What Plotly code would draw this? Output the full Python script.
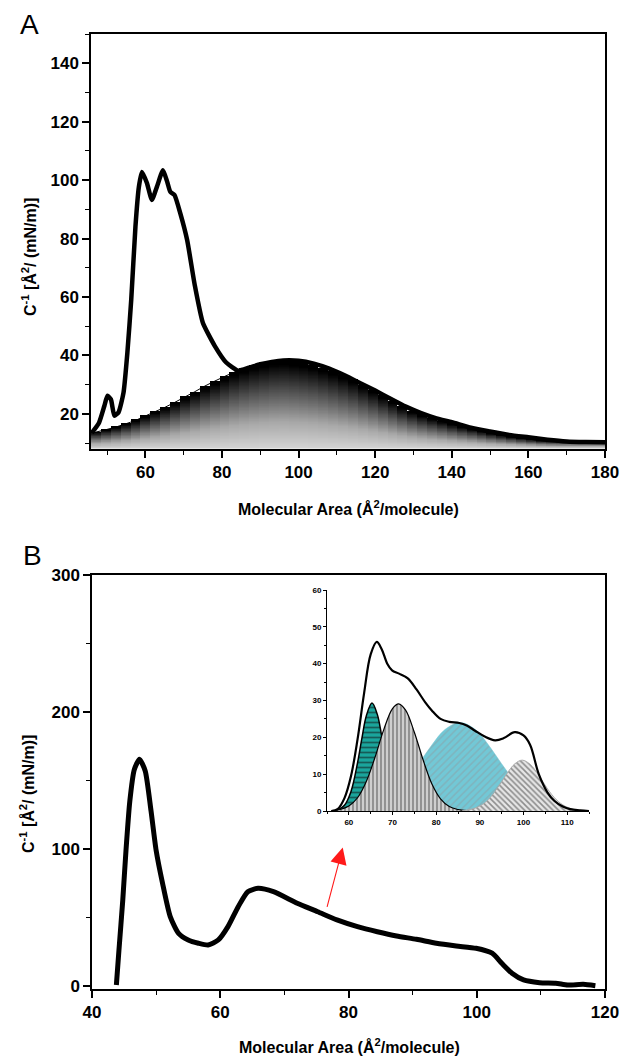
import plotly.graph_objects as go

# ---------------- Panel A data ----------------
a_bin_start = 45.8
a_bin_width = 2.58
a_dist_heights = [13.8, 14.6, 15.5, 16.6, 17.8, 19.3, 20.8, 22.3, 24.0, 25.8,
                  27.6, 29.5, 31.2, 32.8, 34.3, 35.6, 36.7, 37.5, 38.2, 38.4,
                  38.0, 37.5, 36.8, 35.8, 34.6, 33.3, 31.8, 30.0, 28.2, 26.3,
                  24.4, 22.6, 21.0, 19.7, 18.6, 17.6, 16.6, 15.7, 14.9, 14.1,
                  13.4, 12.8, 12.2, 11.7, 11.3, 10.9, 10.7, 10.6, 10.6, 10.6,
                  10.6, 10.6]
a_curve_x = [46.0, 47.9, 49.3, 50.1, 51.0, 51.9, 53.0, 54.3, 55.3, 56.3, 57.4, 58.3,
             59.1, 60.4, 61.7, 63.0, 64.6, 65.7, 66.5, 67.6, 69.1, 70.9, 72.9, 75.0,
             78.1, 81.1, 84.2, 87.0, 90.0, 93.0, 96.0, 100.0, 104.0, 108.0, 112.0,
             116.0, 120.0, 124.0, 128.0, 132.0, 136.0, 140.0, 145.0, 150.0, 155.0,
             160.0, 165.0, 170.0, 175.0, 180.0]
a_curve_y = [13.5, 17.0, 22.8, 26.2, 25.0, 19.4, 20.6, 27.4, 41.0, 59.0, 84.0, 97.7,
             102.8, 99.0, 93.2, 97.7, 103.4, 99.4, 96.0, 94.9, 88.7, 79.5, 64.0, 51.2,
             43.3, 37.6, 34.8, 35.8, 37.0, 37.8, 38.3, 38.2, 37.2, 35.5, 33.2,
             30.6, 28.0, 25.2, 22.5, 20.3, 18.5, 17.2, 15.3, 14.0, 12.8,
             12.0, 11.2, 10.6, 10.4, 10.3]

# ---------------- Panel B data ----------------
b_curve_x = [43.8, 44.2, 44.8, 45.3, 45.9, 46.6, 47.4, 48.3, 49.2, 50.0, 51.0, 52.2,
             53.5, 55.0, 56.6, 58.1, 59.7, 61.2, 62.8, 64.3, 65.9, 68.3, 72.0, 75.2,
             78.2, 81.4, 84.5, 87.5, 90.6, 93.7, 96.8, 99.9, 102.4, 103.9, 105.5,
             107.3, 109.8, 112.3, 114.2, 116.6, 118.5]
b_curve_y = [0.7, 26.0, 62.8, 99.0, 135.0, 158.0, 165.5, 157.0, 128.0, 99.0, 75.0, 50.6,
             38.4, 33.6, 31.2, 29.9, 33.6, 43.3, 57.9, 68.8, 71.3, 68.8, 60.4, 54.2,
             48.2, 43.3, 39.6, 36.5, 34.1, 31.2, 29.2, 27.5, 23.9, 16.6, 9.3,
             4.4, 2.4, 2.0, 0.7, 1.2, 0.2]
arrow_tail = (76.6, 56.7)
arrow_head = (79.1, 101.0)

# ---------------- Inset data ----------------
ins_env_x = [56, 57.5, 59, 60.5, 62, 63.5, 65, 66.4, 67.5, 68.8, 69.9, 71.5, 73.5, 75.5,
             77.5, 79, 81, 83, 85.3, 87, 88.9, 91, 93.5, 95.5, 98, 100, 101.5, 103.5,
             105.5, 107.1, 109, 110.7, 113, 115]
ins_env_y = [0, 0.6, 3.5, 9.5, 19.5, 32, 42.5, 45.9, 44, 40, 38.2, 37.3, 36, 33,
             29.5, 27.3, 25, 24.2, 23.9, 23.2, 21.8, 20.3, 19.2, 19.8, 21.4, 20.5, 18, 10,
             5, 2.7, 1.2, 0.5, 0.2, 0]
ins_teal_x = [57.5, 59, 60.5, 62, 63, 64, 65.3, 66.5, 67.5, 68.5, 70, 71.5, 73]
ins_teal_y = [0.3, 1.55, 5.3, 13.1, 19.8, 25.8, 29.3, 26.3, 20.5, 13.7, 5.7, 1.7, 0.4]
ins_gray_x = [56, 58, 60, 62, 64, 66, 68, 70, 71.4, 73, 75, 77, 79, 81, 83, 85, 87]
ins_gray_y = [0.1, 0.4, 1.35, 3.6, 8.0, 14.6, 22.1, 27.8, 29.1, 27.4, 21.4, 13.9, 7.4,
              3.3, 1.2, 0.4, 0.1]
ins_blue_x = [70, 73, 76, 79, 82, 85.5, 89, 92, 95, 98, 101, 104, 107]
ins_blue_y = [4.6, 8.1, 12.8, 17.9, 22.1, 24.0, 22.1, 17.9, 12.8, 8.1, 4.6, 2.3, 1.0]
ins_dark_x = [86, 88, 90, 92, 94, 96, 98, 99.7, 101.5, 103.5, 105.5, 107.5, 109.5,
              111.5, 113.5]
ins_dark_y = [0.13, 0.47, 1.35, 3.2, 6.2, 9.8, 12.8, 13.8, 12.7, 9.7, 6.0, 3.1, 1.3,
              0.45, 0.1]

FONT = "Liberation Sans, Arial, sans-serif"
W, H = 621, 1057

fig = go.Figure()

# Gradient-filled staircase distribution (panel A) as a masked heatmap
a_base = 8.0
dy = 0.2
n_rows = int((max(a_dist_heights) - a_base) / dy) + 2
z = []
for k in range(n_rows):
    yk = a_base + dy / 2 + k * dy
    row = []
    for h in a_dist_heights:
        row.append((yk - a_base) / (h - a_base) if yk - dy / 2 < h else None)
    z.append(row)
centers = [a_bin_start + a_bin_width * (j + 0.5) for j in range(len(a_dist_heights))]
fig.add_trace(go.Heatmap(
    z=z, x0=centers[0], dx=a_bin_width, y0=a_base + dy / 2, dy=dy,
    colorscale=[[0, "#d4d4d4"], [0.3, "#a8a8a8"], [0.65, "#505050"], [0.95, "#000000"], [1, "#000000"]],
    zmin=0, zmax=1, showscale=False, hoverinfo="skip", zsmooth=False,
    xaxis="x", yaxis="y"))
fig.add_trace(go.Scatter(x=centers, y=a_dist_heights, mode="lines",
                         line=dict(color="black", width=1, shape="spline"),
                         xaxis="x", yaxis="y", hoverinfo="skip"))
fig.add_trace(go.Scatter(x=a_curve_x, y=a_curve_y, mode="lines",
                         line=dict(color="black", width=4.5, shape="spline", smoothing=0.5),
                         xaxis="x", yaxis="y"))

# Panel B main curve
fig.add_trace(go.Scatter(x=b_curve_x, y=b_curve_y, mode="lines",
                         line=dict(color="black", width=5, shape="spline", smoothing=0.6),
                         xaxis="x2", yaxis="y2"))

# Inset components
fig.add_trace(go.Scatter(x=ins_blue_x, y=ins_blue_y, mode="lines", fill="tozeroy",
                         line=dict(color="#7fc9d4", width=0.5, shape="spline"),
                         fillcolor="#72c8d6",
                         fillpattern=dict(shape="/", bgcolor="#72c8d6", fgcolor="#8c9ea3",
                                          size=5, solidity=0.3),
                         xaxis="x3", yaxis="y3"))
fig.add_trace(go.Scatter(x=ins_teal_x, y=ins_teal_y, mode="lines", fill="tozeroy",
                         line=dict(color="black", width=1.5, shape="spline"),
                         fillpattern=dict(shape="-", bgcolor="#1aa59c", fgcolor="#111111",
                                          size=5, solidity=0.35),
                         xaxis="x3", yaxis="y3"))
fig.add_trace(go.Scatter(x=ins_gray_x, y=ins_gray_y, mode="lines", fill="tozeroy",
                         line=dict(color="black", width=1.2, shape="spline"),
                         fillpattern=dict(shape="|", bgcolor="#cfcfcf", fgcolor="#222222",
                                          size=4, solidity=0.35),
                         xaxis="x3", yaxis="y3"))
fig.add_trace(go.Scatter(x=ins_dark_x, y=ins_dark_y, mode="lines", fill="tozeroy",
                         line=dict(color="#aaaaaa", width=1, shape="spline"),
                         fillpattern=dict(shape="\\", bgcolor="#e6e6e6", fgcolor="#333333",
                                          size=4, solidity=0.4),
                         xaxis="x3", yaxis="y3"))
fig.add_trace(go.Scatter(x=ins_env_x, y=ins_env_y, mode="lines",
                         line=dict(color="black", width=2.2, shape="spline"),
                         xaxis="x3", yaxis="y3"))

tickfont = dict(family=FONT, size=17, color="black", weight="bold")

def px_x(a, b):
    return [a / W, b / W]

def px_y(top, bottom):
    return [1 - bottom / H, 1 - top / H]

common = dict(showline=True, linecolor="black", linewidth=1.5, mirror=True, automargin=False,
              showgrid=False, zeroline=False, ticks="outside", ticklen=7, tickwidth=1.5,
              tickcolor="black", tickfont=tickfont)

A_X = px_x(91, 605)
A_Y = px_y(34, 449)
B_X = px_x(92, 605)
B_Y = px_y(575, 989)
I_X = px_x(327, 589)
I_Y = px_y(590, 811)

mirror_common = dict(showline=False, showgrid=False, zeroline=False, ticks="inside",
                     automargin=False,
                     showticklabels=False, ticklen=4, tickwidth=1.2, tickcolor="black")

minor_out = lambda d: dict(dtick=d, ticks="outside", ticklen=4, tickcolor="black", tickwidth=1.2)
minor_in = lambda d: dict(dtick=d, ticks="inside", ticklen=3, tickcolor="black")
inset_font = dict(family=FONT, size=8, color="black", weight="bold")

fig.update_layout(
    width=W, height=H, autosize=False,
    margin=dict(l=0, r=0, t=0, b=0, pad=0),
    paper_bgcolor="white", plot_bgcolor="white",
    showlegend=False,
    xaxis=dict(domain=A_X, anchor="y", range=[45.8, 180], tick0=60, dtick=20,
               minor=minor_out(10), **common),
    yaxis=dict(domain=A_Y, anchor="x", range=[8, 150], tick0=0, dtick=20,
               minor=minor_out(10), **common),
    xaxis2=dict(domain=B_X, anchor="y2", range=[40, 120], tick0=40, dtick=20,
                minor=minor_out(10), **common),
    yaxis2=dict(domain=B_Y, anchor="x2", range=[-2.2, 300], tick0=0, dtick=100,
                minor=minor_out(50), **common),
    xaxis3=dict(domain=I_X, anchor="y3", range=[55, 115], tick0=60, dtick=10,
                showline=True, linecolor="black", linewidth=1, showgrid=False, zeroline=False,
                automargin=False,
                ticks="outside", ticklen=3, tickwidth=1, tickcolor="black",
                minor=dict(dtick=5, ticks="outside", ticklen=2, tickcolor="black"),
                tickfont=inset_font),
    yaxis3=dict(domain=I_Y, anchor="x3", range=[0, 60], tick0=0, dtick=10,
                showline=True, linecolor="black", linewidth=1, showgrid=False, zeroline=False,
                automargin=False,
                ticks="outside", ticklen=3, tickwidth=1, tickcolor="black",
                minor=dict(dtick=5, ticks="outside", ticklen=2, tickcolor="black"),
                tickfont=inset_font),
    xaxis4=dict(overlaying="x", side="top", anchor="y", range=[45.8, 180], tick0=60, dtick=20,
                minor=minor_in(10), **mirror_common),
    yaxis4=dict(overlaying="y", side="right", anchor="x", range=[8, 150], tick0=0, dtick=20,
                minor=minor_in(10), **mirror_common),
    xaxis5=dict(overlaying="x2", side="top", anchor="y2", range=[40, 120], tick0=40, dtick=20,
                minor=minor_in(10), **mirror_common),
    yaxis5=dict(overlaying="y2", side="right", anchor="x2", range=[-2.2, 300], tick0=0, dtick=100,
                minor=minor_in(50), **mirror_common),
)

title_font = dict(family=FONT, size=16, color="black", weight="bold")
ytitle = "C<sup>-1</sup> [Å<sup>2</sup>/ (mN/m)]"
xtitle = "Molecular Area (Å<sup>2</sup>/molecule)"
C = dict(xref="paper", yref="paper", showarrow=False, xanchor="center", yanchor="middle")
ann = [
    dict(text="A", x=29 / W, y=1 - 25 / H, font=dict(family=FONT, size=28, color="black"), **C),
    dict(text="B", x=32 / W, y=1 - 555 / H, font=dict(family=FONT, size=28, color="black"), **C),
    dict(text=xtitle, x=348 / W, y=1 - 508 / H, font=title_font, **C),
    dict(text=xtitle, x=349 / W, y=1 - 1046 / H, font=title_font, **C),
    dict(text=ytitle, x=29 / W, y=1 - 257 / H, textangle=-90, font=title_font, **C),
    dict(text=ytitle, x=27 / W, y=1 - 794 / H, textangle=-90, font=title_font, **C),
    dict(x=arrow_head[0], y=arrow_head[1], ax=arrow_tail[0], ay=arrow_tail[1],
         xref="x2", yref="y2", axref="x2", ayref="y2", text="", showarrow=True,
         arrowhead=2, arrowsize=3, arrowwidth=1.1, arrowcolor="#ff1a1a"),
]
fig.update_layout(annotations=ann)

fig.write_html("out.html", config={"displayModeBar": False},
               post_script="document.body.style.margin='0';document.body.style.overflow='hidden';")
